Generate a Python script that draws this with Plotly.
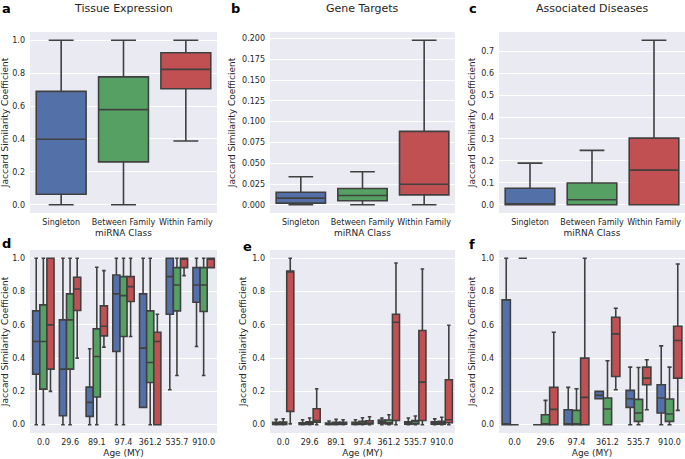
# miRNA Jaccard similarity box plots (six panels)
import plotly.graph_objects as go
from plotly.subplots import make_subplots

classes = ["Singleton", "Between Family", "Within Family"]
ages_de = ["0.0", "29.6", "89.1", "97.4", "361.2", "535.7", "910.0"]
ages_f = ["0.0", "29.6", "97.4", "361.2", "535.7", "910.0"]

# each stat tuple: (lower whisker, q1, median, q3, upper whisker)
tissue = [(0.0, 0.064, 0.398, 0.689, 1.0),
          (0.0, 0.261, 0.578, 0.777, 1.0),
          (0.388, 0.705, 0.823, 0.924, 1.0)]
targets = [(0.0, 0.002, 0.008, 0.0151, 0.0338),
           (0.0, 0.0048, 0.0111, 0.0195, 0.0398),
           (0.0, 0.0119, 0.0247, 0.0883, 0.198)]
diseases = [(0.0, 0.0, 0.0, 0.075, 0.19),
            (0.0, 0.0, 0.0226, 0.099, 0.248),
            (0.0, 0.0, 0.158, 0.304, 0.75)]

# panel d: tissue expression by age
d_single = [(0.0, 0.304, 0.5, 0.684, 1.0), (0.0, 0.054, 0.334, 0.63, 1.0),
            (0.0, 0.05, 0.134, 0.226, 0.456), (0.0, 0.44, 0.786, 0.9, 1.0),
            (0.104, 0.104, 0.46, 0.786, 1.0), (0.21, 0.664, 0.89, 1.0, 1.0),
            (0.47, 0.736, 0.84, 0.944, 1.0)]
d_between = [(0.0, 0.214, 0.5, 0.72, 1.0), (0.0, 0.334, 0.63, 0.786, 1.0),
             (0.0, 0.166, 0.41, 0.576, 0.946), (0.0, 0.53, 0.776, 0.89, 1.0),
             (0.0, 0.254, 0.374, 0.684, 1.0), (0.296, 0.684, 0.84, 0.944, 1.0),
             (0.296, 0.68, 0.84, 0.944, 1.0)]
d_within = [(0.2, 0.334, 0.6, 1.0, 1.0), (0.4, 0.686, 0.816, 0.886, 1.0),
            (0.466, 0.534, 0.592, 0.714, 0.926), (0.53, 0.74, 0.83, 0.89, 1.0),
            (0.0, 0.0, 0.5, 0.556, 0.664), (0.896, 0.944, 1.0, 1.0, 1.0),
            (0.944, 0.944, 1.0, 1.0, 1.0)]

# panel e: gene targets by age
e_single = [(0.0, 0.002, 0.006, 0.015, 0.032), (0.0, 0.002, 0.005, 0.012, 0.03),
            (0.0, 0.001, 0.004, 0.01, 0.022), (0.0, 0.002, 0.006, 0.014, 0.03),
            (0.0, 0.008, 0.018, 0.028, 0.04), (0.0, 0.003, 0.008, 0.018, 0.04),
            (0.0, 0.003, 0.008, 0.018, 0.035)]
e_between = [(0.0, 0.002, 0.006, 0.016, 0.036), (0.0, 0.003, 0.008, 0.018, 0.04),
             (0.0, 0.002, 0.006, 0.014, 0.032), (0.0, 0.003, 0.008, 0.02, 0.042),
             (0.0, 0.004, 0.012, 0.028, 0.06), (0.0, 0.005, 0.02, 0.025, 0.052),
             (0.0, 0.003, 0.01, 0.02, 0.045)]
e_within = [(0.005, 0.08, 0.92, 0.924, 1.0), (0.0, 0.015, 0.025, 0.096, 0.216),
            (0.0, 0.003, 0.007, 0.015, 0.03), (0.0, 0.004, 0.01, 0.024, 0.048),
            (0.0, 0.025, 0.616, 0.664, 0.972), (0.0, 0.025, 0.256, 0.566, 0.936),
            (0.0, 0.012, 0.03, 0.27, 0.598)]

# panel f: associated diseases by age
f_single = [(0.0, 0.0, 0.0, 0.75, 1.0), (0.0, 0.0, 0.0, 0.0, 0.0),
            (0.0, 0.0, 0.0, 0.09, 0.224), (0.156, 0.156, 0.176, 0.2, 0.2),
            (0.0, 0.104, 0.156, 0.206, 0.346), (0.0, 0.07, 0.16, 0.24, 0.474)]
f_between = [(0.0, 0.0, 0.0, 0.0, 0.0), (0.0, 0.0, 0.0, 0.06, 0.146),
             (0.0, 0.0, 0.0, 0.086, 0.216), (0.0, 0.0, 0.094, 0.16, 0.384),
             (0.0, 0.02, 0.07, 0.152, 0.344), (0.0, 0.02, 0.064, 0.154, 0.346)]
f_within = [(1.0, 1.0, 1.0, 1.0, 1.0), (0.0, 0.0, 0.092, 0.224, 0.556),
            (0.0, 0.0, 0.164, 0.4, 1.0), (0.21, 0.29, 0.546, 0.646, 0.7),
            (0.09, 0.24, 0.28, 0.346, 0.39), (0.086, 0.28, 0.506, 0.592, 0.966)]

colors = ["#5470a8", "#55a062", "#c05052"]
edge = "#404040"
font = "DejaVu Sans"
txt = "#262626"

fig = make_subplots(rows=2, cols=3)


def add_box(x, stats, color, row, col, offset, align):
    fig.add_trace(go.Box(
        x=x,
        lowerfence=[s[0] for s in stats],
        q1=[s[1] for s in stats],
        median=[s[2] for s in stats],
        q3=[s[3] for s in stats],
        upperfence=[s[4] for s in stats],
        fillcolor=color, line=dict(color=edge, width=1.6),
        whiskerwidth=0.5, boxpoints=False, offsetgroup=offset,
        alignmentgroup=align, hoverinfo="skip", showlegend=False,
    ), row=row, col=col)


# top row: one box per class
for c, stats in enumerate([tissue, targets, diseases]):
    for i, name in enumerate(classes):
        add_box([name], [stats[i]], colors[i], 1, c + 1, "top%d" % c, "top%d" % c)

# bottom row: grouped boxes per age
bottom = [(ages_de, [d_single, d_between, d_within]),
          (ages_de, [e_single, e_between, e_within]),
          (ages_f, [f_single, f_between, f_within])]
for c, (ages, sets) in enumerate(bottom):
    for i, stats in enumerate(sets):
        add_box(ages, stats, colors[i], 2, c + 1, "g%d_%d" % (c, i), "bot%d" % c)

W, H = 685, 459
xdom = [(30, 217), (270, 455), (499, 685)]
ydom = [(32, 213), (250, 433)]
yranges = [[-0.05, 1.05], [-0.0099, 0.2079], [-0.0375, 0.7875],
           [-0.05, 1.05], [-0.05, 1.05], [-0.05, 1.05]]
ydtick = [0.2, 0.025, 0.1, 0.2, 0.2, 0.2]
yfmt = [".1f", ".3f", ".1f", ".1f", ".1f", ".1f"]

for r in range(2):
    for c in range(3):
        k = r * 3 + c
        fig.update_xaxes(
            domain=[xdom[c][0] / W, xdom[c][1] / W],
            showgrid=False, zeroline=False, showline=False, ticks="",
            ticklabelstandoff=3,
            tickfont=dict(family=font, size=8, color=txt),
            title=dict(text="miRNA Class" if r == 0 else "Age (MY)",
                       font=dict(family=font, size=9, color=txt), standoff=3),
            row=r + 1, col=c + 1)
        fig.update_yaxes(
            domain=[1 - ydom[r][1] / H, 1 - ydom[r][0] / H],
            range=yranges[k], dtick=ydtick[k], tick0=0, tickformat=yfmt[k],
            showgrid=True, gridcolor="white", gridwidth=1.2,
            zeroline=False, showline=False, ticks="", ticklabelstandoff=4,
            tickfont=dict(family=font, size=8, color=txt),
            title=dict(text="Jaccard Similarity Coefficient",
                       font=dict(family=font, size=9, color=txt), standoff=4),
            row=r + 1, col=c + 1)

titles = ["Tissue Expression", "Gene Targets", "Associated Diseases"]
for c, t in enumerate(titles):
    fig.add_annotation(text=t, x=(xdom[c][0] + xdom[c][1]) / 2 / W, y=1 - 8 / H,
                       xref="paper", yref="paper", xanchor="center",
                       yanchor="middle", showarrow=False,
                       font=dict(family=font, size=11, color=txt))

letters = [("a", 0, 8), ("b", 229, 8), ("c", 467, 8),
           ("d", 0, 243), ("e", 241, 246), ("f", 467, 244)]
for t, px_, py_ in letters:
    fig.add_annotation(text="<b>%s</b>" % t, x=px_ / W, y=1 - py_ / H,
                       xref="paper", yref="paper", xanchor="left",
                       yanchor="middle", showarrow=False,
                       font=dict(family=font, size=13, color="black"))

fig.update_layout(
    width=W, height=H,
    margin=dict(l=0, r=0, t=0, b=0),
    paper_bgcolor="white", plot_bgcolor="#EAEAF2",
    boxmode="group", boxgap=0.2, boxgroupgap=0,
    showlegend=False,
)

# drop the default page margin so the figure sits at the window corner
fig.write_html("out.html", config={"displayModeBar": False},
               post_script="document.body.style.margin='0';")
